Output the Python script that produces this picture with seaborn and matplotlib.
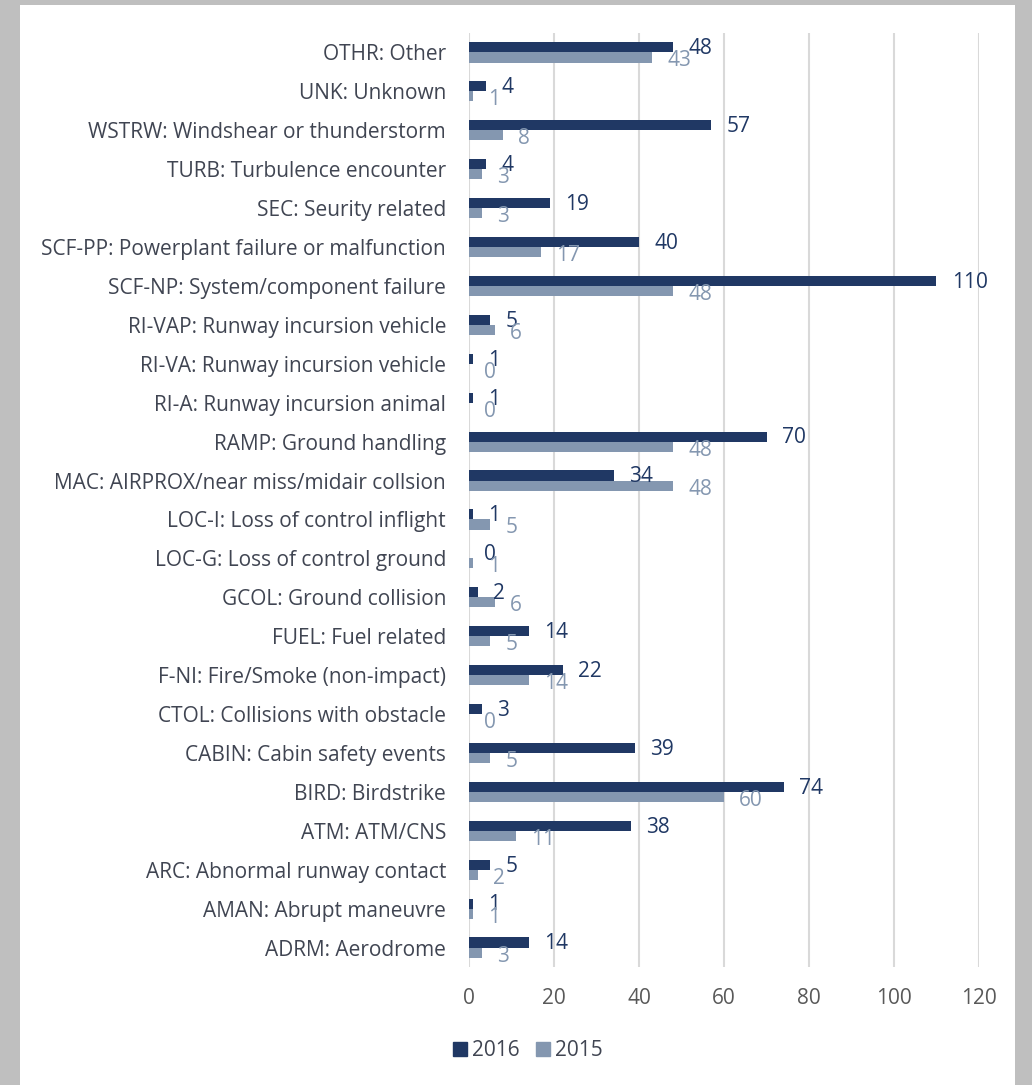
import matplotlib
matplotlib.use("Agg")
import matplotlib.pyplot as plt
import matplotlib.patches as mpatches
import pandas as pd
import seaborn as sns

categories = [
    "OTHR: Other", "UNK: Unknown", "WSTRW: Windshear or thunderstorm",
    "TURB: Turbulence encounter", "SEC: Seurity related",
    "SCF-PP: Powerplant failure or malfunction", "SCF-NP: System/component failure",
    "RI-VAP: Runway incursion vehicle", "RI-VA: Runway incursion vehicle",
    "RI-A: Runway incursion animal", "RAMP: Ground handling",
    "MAC: AIRPROX/near miss/midair collsion", "LOC-I: Loss of control inflight",
    "LOC-G: Loss of control ground", "GCOL: Ground collision", "FUEL: Fuel related",
    "F-NI: Fire/Smoke (non-impact)", "CTOL: Collisions with obstacle",
    "CABIN: Cabin safety events", "BIRD: Birdstrike", "ATM: ATM/CNS",
    "ARC: Abnormal runway contact", "AMAN: Abrupt maneuvre", "ADRM: Aerodrome",
]
values_2016 = [48, 4, 57, 4, 19, 40, 110, 5, 1, 1, 70, 34, 1, 0, 2, 14, 22, 3, 39, 74, 38, 5, 1, 14]
values_2015 = [43, 1, 8, 3, 3, 17, 48, 6, 0, 0, 48, 48, 5, 1, 6, 5, 14, 0, 5, 60, 11, 2, 1, 3]
years = ["2016", "2015"]

colors = {"2016": "#203864", "2015": "#8497B0"}
fontsize = 15

sns.set_style("white")
plt.rcParams["font.family"] = ["Open Sans", "DejaVu Sans"]
plt.rcParams["font.size"] = fontsize

df = pd.DataFrame({
    "category": categories * 2,
    "value": values_2016 + values_2015,
    "year": ["2016"] * len(categories) + ["2015"] * len(categories),
})

fig = plt.figure(figsize=(10.32, 10.85), dpi=100, facecolor="#bfbfbf")
# white chart area inside the grey frame
bg = mpatches.Rectangle((20 / 1032, 0), 995 / 1032, 1 - 5 / 1085,
                        transform=fig.transFigure, facecolor="white",
                        edgecolor="none", zorder=-10)
fig.add_artist(bg)
ax = fig.add_axes([469 / 1032, 1 - 967 / 1085, 510 / 1032, 934 / 1085])
ax.set_facecolor("none")

sns.barplot(data=df, y="category", x="value", hue="year", hue_order=years,
            order=categories, palette=colors, width=0.52, orient="h",
            ax=ax, legend=False, saturation=1, linewidth=0)

ax.set_xlim(0, 120)
ax.set_ylim(len(categories) - 0.5, -0.5)
ax.set_xticks(range(0, 121, 20))
ax.grid(axis="x", color="#d9d9d9", linewidth=1.5)
ax.set_axisbelow(True)
for s in ax.spines.values():
    s.set_visible(False)
ax.tick_params(axis="both", length=0)
ax.tick_params(axis="x", pad=15, labelcolor="#595959", labelsize=fontsize)
ax.tick_params(axis="y", pad=16.5, labelcolor="#404552", labelsize=fontsize)
ax.set_xlabel("")
ax.set_ylabel("")

# data labels (overlaps are as in the original)
for cont, year in zip(ax.containers, years):
    dy = -1 if year == "2016" else -2.5
    for bar, v in zip(cont, cont.datavalues):
        y = bar.get_y() + bar.get_height() / 2
        ax.annotate(f"{int(v)}", (bar.get_width(), y), xytext=(11, dy),
                    textcoords="offset points", va="center", ha="left",
                    color=colors[year], fontsize=fontsize, annotation_clip=False)

handles = [mpatches.Patch(color=colors[y], label=y) for y in years]
fig.legend(handles=handles, loc="center", bbox_to_anchor=(528 / 1032, 1 - 1051 / 1085),
           ncol=2, frameon=False, handlelength=0.67, handleheight=0.67,
           handletextpad=0.25, columnspacing=0.8, labelcolor="#404552", fontsize=fontsize)

fig.savefig("out.png", dpi=100, facecolor=fig.get_facecolor())
